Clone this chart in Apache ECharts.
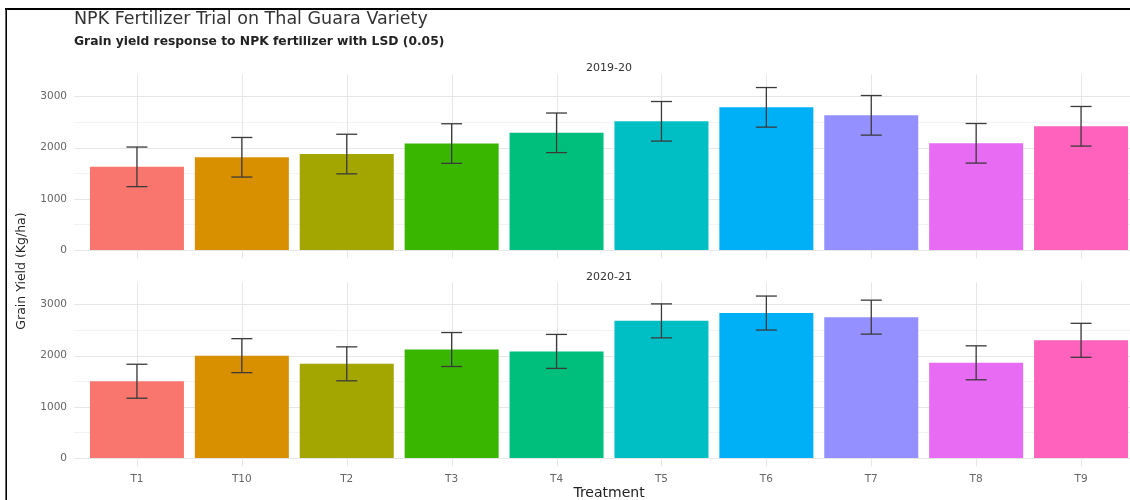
<!DOCTYPE html>
<html>
<head>
<meta charset="utf-8">
<script src="https://cdn.jsdelivr.net/npm/echarts@6/dist/echarts.min.js"></script>
<style>
html,body{margin:0;padding:0;background:#fff;}
#chart{width:1130px;height:500px;}
</style>
</head>
<body>
<div id="chart"></div>
<script>
// ---- data ----
const categories = ['T1', 'T10', 'T2', 'T3', 'T4', 'T5', 'T6', 'T7', 'T8', 'T9'];
const seasons = ['2019-20', '2020-21'];
const yield1920 = [1625, 1812, 1875, 2080, 2290, 2515, 2788, 2632, 2085, 2418];
const yield2021 = [1500, 2000, 1840, 2120, 2083, 2680, 2833, 2753, 1860, 2300];
const lsd = [387, 332];
const yTicks = [0, 1000, 2000, 3000];
const yMinorTicks = [500, 1500, 2500];
const barColors = ['#F8766D', '#D89000', '#A3A500', '#39B600', '#00BF7D', '#00BFC4', '#00B0F6', '#9590FF', '#E76BF3', '#FF62BC'];
const titleText = 'NPK Fertilizer Trial on Thal Guara Variety';
const subtitleText = 'Grain yield response to NPK fertilizer with LSD (0.05)';
const yTitle = 'Grain Yield (Kg/ha)';
const xTitle = 'Treatment';

const FONT = '"DejaVu Sans", sans-serif';
const yieldsBySeason = [yield1920, yield2021];
const panelTops = [74.5, 282.5];
const panelH = 183.8;
const yMin = -163, yMax = 3430;
const xMin = -0.6, xMax = 9.6;

const chart = echarts.init(document.getElementById('chart'), null, {renderer: 'canvas'});

const grids = [], xAxes = [], yAxes = [], series = [];
seasons.forEach((s, p) => {
  grids.push({left: 74, width: 1070, top: panelTops[p], height: panelH, outerBoundsMode: 'none', containLabel: false});
  xAxes.push({
    type: 'value', gridIndex: p, min: xMin, max: xMax,
    axisLine: {show: false, onZero: false}, axisTick: {show: false}, splitLine: {show: false},
    axisLabel: {
      show: p === 1, customValues: categories.map((c, i) => i), margin: 7,
      formatter: v => categories[Math.round(v)] || '',
      color: '#666', fontSize: 10.5, fontFamily: FONT
    }
  });
  yAxes.push({
    type: 'value', gridIndex: p, min: yMin, max: yMax,
    axisLine: {show: false}, axisTick: {show: false}, splitLine: {show: false},
    axisLabel: {customValues: yTicks, margin: 7, color: '#666', fontSize: 10.5, fontFamily: FONT,
      formatter: v => String(Math.round(v))}
  });
  // horizontal gridlines
  series.push({
    type: 'custom', xAxisIndex: p, yAxisIndex: p, z: 1, silent: true,
    data: yTicks.map(v => [0, v, 0]).concat(yMinorTicks.map(v => [0, v, 1])),
    renderItem: (params, api) => {
      const cs = params.coordSys;
      const y = Math.round(api.coord([0, api.value(1)])[1]) + 0.5;
      const minor = api.value(2) === 1;
      return {type: 'line', shape: {x1: cs.x, y1: y, x2: cs.x + cs.width, y2: y},
        style: {stroke: minor ? '#f3f3f3' : '#e6e6e6', lineWidth: 1}};
    }
  });
  // vertical gridlines
  series.push({
    type: 'custom', xAxisIndex: p, yAxisIndex: p, z: 1, silent: true,
    data: categories.map((c, i) => [i, 0]),
    renderItem: (params, api) => {
      const cs = params.coordSys;
      const x = Math.round(api.coord([api.value(0), 0])[0]) + 0.5;
      return {type: 'line', shape: {x1: x, y1: cs.y, x2: x, y2: cs.y + cs.height},
        style: {stroke: '#e6e6e6', lineWidth: 1}};
    }
  });
  // bars
  series.push({
    type: 'bar', xAxisIndex: p, yAxisIndex: p, z: 2, barWidth: 94, silent: true,
    data: yieldsBySeason[p].map((v, i) => ({value: [i, v], itemStyle: {color: barColors[i]}}))
  });
  // LSD error bars
  series.push({
    type: 'custom', xAxisIndex: p, yAxisIndex: p, z: 3, silent: true,
    data: yieldsBySeason[p].map((v, i) => [i, v, lsd[p]]),
    renderItem: (params, api) => {
      const i = api.value(0), m = api.value(1), d = api.value(2);
      const top = api.coord([i, m + d]);
      const bot = api.coord([i, m - d]);
      const capL = api.coord([i - 0.1, m])[0];
      const capR = api.coord([i + 0.1, m])[0];
      const st = {stroke: '#3a3a3a', lineWidth: 1.3};
      return {type: 'group', children: [
        {type: 'line', shape: {x1: top[0], y1: top[1], x2: bot[0], y2: bot[1]}, style: st},
        {type: 'line', shape: {x1: capL, y1: top[1], x2: capR, y2: top[1]}, style: st},
        {type: 'line', shape: {x1: capL, y1: bot[1], x2: capR, y2: bot[1]}, style: st}
      ]};
    }
  });
});

const graphic = [
  {type: 'line', shape: {x1: 5, y1: 9, x2: 1130, y2: 9}, style: {stroke: '#000', lineWidth: 2}, silent: true},
  {type: 'line', shape: {x1: 6.2, y1: 8, x2: 6.2, y2: 500}, style: {stroke: '#000', lineWidth: 1.6}, silent: true},
  {type: 'text', x: 74, y: 19, style: {text: titleText, font: '17.5px ' + FONT, fill: '#333', align: 'left', verticalAlign: 'middle'}},
  {type: 'text', x: 74, y: 42, style: {text: subtitleText, font: 'bold 12.3px ' + FONT, fill: '#222', align: 'left', verticalAlign: 'middle'}},
  {type: 'text', x: 609, y: 68.5, style: {text: seasons[0], font: '11px ' + FONT, fill: '#333', align: 'center', verticalAlign: 'middle'}},
  {type: 'text', x: 609, y: 277.5, style: {text: seasons[1], font: '11px ' + FONT, fill: '#333', align: 'center', verticalAlign: 'middle'}},
  {type: 'text', x: 22, y: 271, rotation: Math.PI / 2, style: {text: yTitle, font: '12.5px ' + FONT, fill: '#222', align: 'center', verticalAlign: 'middle'}},
  {type: 'text', x: 609, y: 493.5, style: {text: xTitle, font: '14px ' + FONT, fill: '#222', align: 'center', verticalAlign: 'middle'}}
];

chart.setOption({
  backgroundColor: '#ffffff',
  animation: false,
  textStyle: {fontFamily: FONT},
  grid: grids,
  xAxis: xAxes,
  yAxis: yAxes,
  series: series,
  graphic: graphic
});
</script>
</body>
</html>
